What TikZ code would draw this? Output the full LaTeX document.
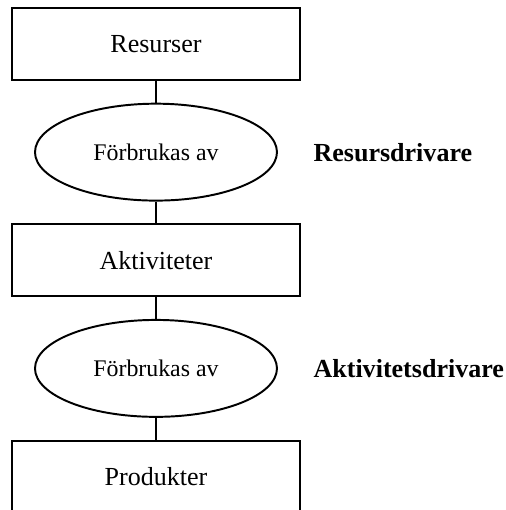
\documentclass[tikz,border=0pt]{standalone}
\usepackage{fontspec}
\setmainfont{Liberation Serif}
\usepackage{tikz}
\usetikzlibrary{positioning,shapes.geometric}
\tikzstyle{box} = [rectangle, draw=black, line width=0.9pt, minimum width=4.67cm, minimum height=1.16cm, text centered, font=\fontsize{12}{14}\selectfont]
\tikzstyle{oval} = [ellipse, draw=black, line width=0.9pt, minimum width=3.92cm, minimum height=1.57cm, text centered, font=\fontsize{11}{13}\selectfont]
\tikzstyle{driver} = [anchor=west, inner sep=0pt, font=\fontsize{12}{14}\selectfont\bfseries]
\tikzstyle{link} = [line width=0.9pt]

\begin{document}
\begin{tikzpicture}[node distance=0.355cm]
    \useasboundingbox (-2.527,0.713) rectangle (5.67,-7.549);
    \node[box] (res) at (0,0) {Resurser};
    \node[oval, below=of res] (use1) {Förbrukas av};
    \node[box, below=of use1] (akt) {Aktiviteter};
    \node[oval, below=of akt] (use2) {Förbrukas av};
    \node[box, below=of use2] (prod) {Produkter};
    \node[driver, right=0.57cm of use1.east] (resdrv) {Resursdrivare};
    \node[driver, right=0.57cm of use2.east] (aktdrv) {Aktivitetsdrivare};
    \draw[link] (res) -- (use1);
    \draw[link] (use1) -- (akt);
    \draw[link] (akt) -- (use2);
    \draw[link] (use2) -- (prod);
\end{tikzpicture}
\end{document}
